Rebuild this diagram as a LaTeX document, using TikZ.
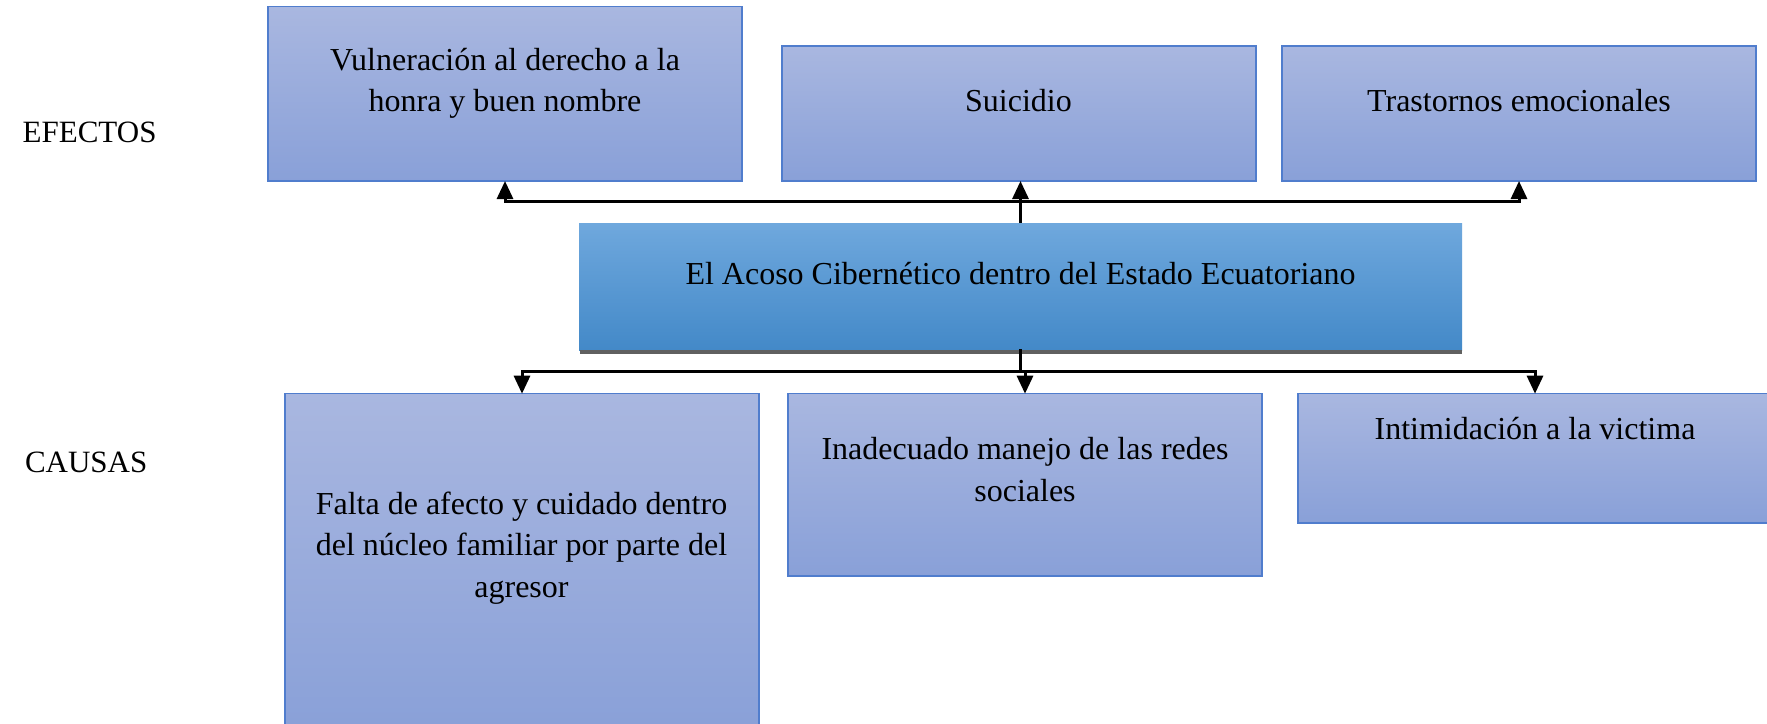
\documentclass[tikz,border=0pt]{standalone}
\usepackage{fontspec}
\setmainfont{Liberation Serif}
\usetikzlibrary{arrows.meta,calc}
\definecolor{boxtop}{RGB}{169,183,224}
\definecolor{boxbot}{RGB}{137,160,216}
\definecolor{boxline}{RGB}{80,125,205}
\definecolor{ctop}{RGB}{111,168,221}
\definecolor{cbot}{RGB}{67,137,200}
\definecolor{shgray}{RGB}{96,96,96}
\tikzset{
  lbox/.style={rectangle, anchor=north west, inner sep=0pt, outer sep=0pt,
    draw=boxline, line width=1.5pt, top color=boxtop, bottom color=boxbot,
    minimum width=474pt},
  cbox/.style={rectangle, anchor=north west, inner sep=0pt, outer sep=0pt,
    top color=ctop, bottom color=cbot, minimum width=883pt, minimum height=127pt},
  txt/.style={anchor=base, inner sep=0pt, font=\fontsize{32}{41.5}\selectfont},
  side/.style={anchor=base west, inner sep=0pt, font=\fontsize{31}{40}\selectfont},
  ln/.style={line width=3pt, line cap=rect},
  arr/.style={line width=3pt, -{Triangle[width=16pt,length=18pt]}},
}
\newcommand{\ml}[1]{\begin{tabular}[t]{@{}c@{}}#1\end{tabular}}
\begin{document}
\begin{tikzpicture}[x=1pt,y=-1pt]
\clip (0,0) rectangle (1767,723);
\fill[white] (0,0) rectangle (1767,723);
% effect boxes
\node[lbox, minimum height=174.3pt] (e1) at (268,6.7) {};
\node[lbox, minimum height=135pt] (e2) at (782,46) {};
\node[lbox, minimum height=135pt] (e3) at (1282,46) {};
% central box
\node[cbox] (c) at (579,223) {};
\fill[shgray] ($(c.south west)+(1,0)$) rectangle ($(c.south east)+(0,4)$);
% cause boxes
\node[lbox, minimum height=340pt] (k1) at (285,393.7) {};
\node[lbox, minimum height=182.3pt] (k2) at (788,393.7) {};
\node[lbox, minimum height=129.3pt] (k3) at (1298,393.7) {};
% texts
\node[txt] (t1) at (505,70) {\ml{Vulneración al derecho a la\\honra y buen nombre}};
\node[txt] (t2) at (1018.5,111) {Suicidio};
\node[txt] (t3) at (1519,111) {Trastornos emocionales};
\node[txt] (tc) at (1020.5,284) {El Acoso Cibernético dentro del Estado Ecuatoriano};
\node[txt] (u1) at (521.5,514) {\ml{Falta de afecto y cuidado dentro\\del núcleo familiar por parte del\\agresor}};
\node[txt] (u2) at (1025,459.5) {\ml{Inadecuado manejo de las redes\\sociales}};
\node[txt] (u3) at (1535,439) {Intimidación a la victima};
\node[side] (ef) at (22.5,142.5) {EFECTOS};
\node[side] (ca) at (24.8,472) {CAUSAS};
% upper connectors
\coordinate (jt) at (1020,201.7);
\draw[ln] (e1.south |- jt) -- (e3.south |- jt);
\draw[arr] (e1.south |- jt) -- (e1.south);
\draw[arr] (e3.south |- jt) -- (e3.south);
\draw[arr] (c.north) -- (c.north |- e2.south);
% lower connectors
\coordinate (jb) at (1020,371.7);
\draw[ln] (c.south) -- (c.south |- jb);
\draw[ln] (k1.north |- jb) -- (k3.north |- jb);
\draw[arr] (k1.north |- jb) -- (k1.north);
\draw[arr] (k2.north |- jb) -- (k2.north);
\draw[arr] (k3.north |- jb) -- (k3.north);
\end{tikzpicture}
\end{document}
